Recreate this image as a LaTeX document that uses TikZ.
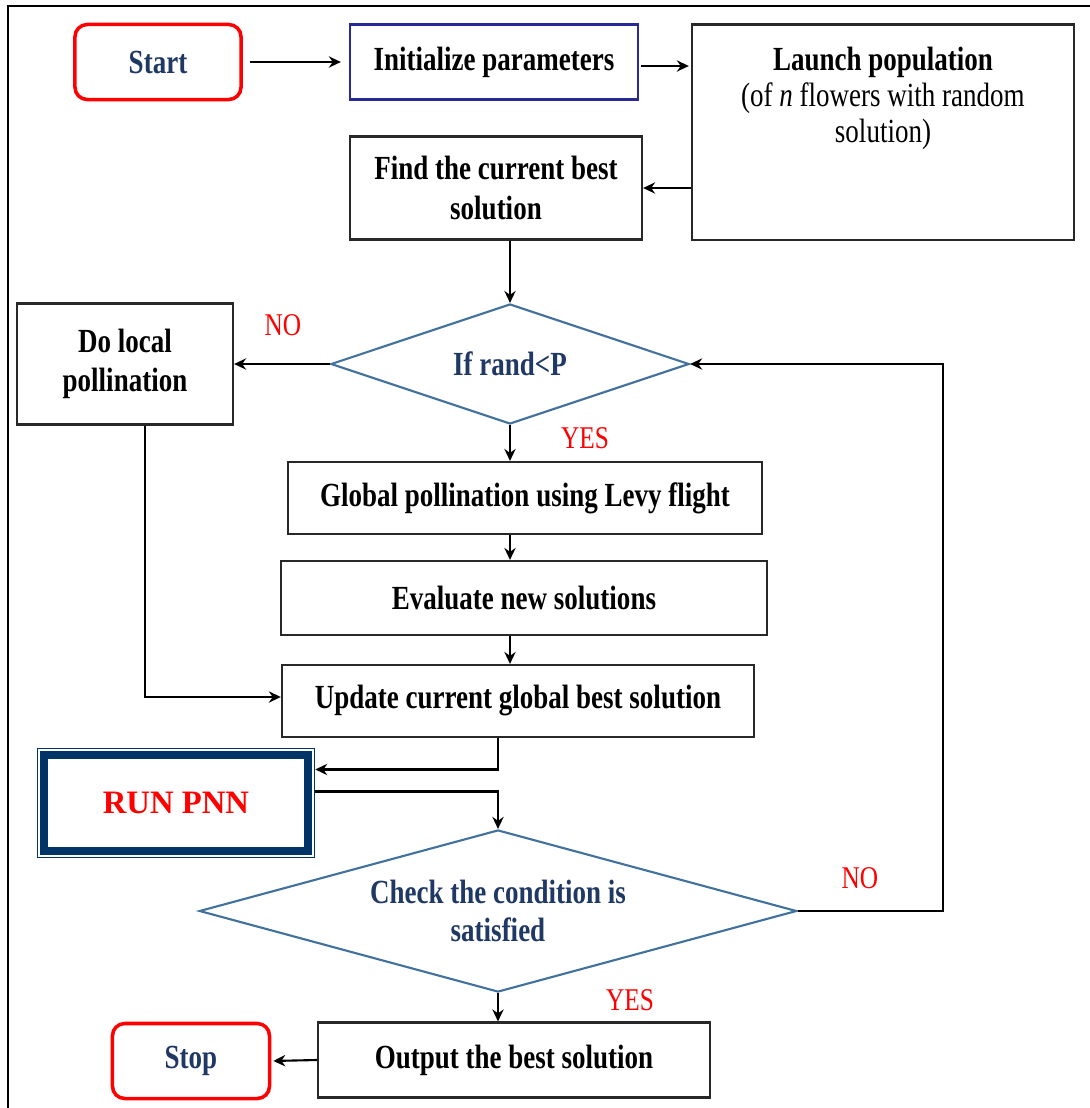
\documentclass[tikz,border=0pt]{standalone}
\usepackage{fontspec}
\setmainfont{Liberation Serif}[FakeStretch=0.8]
\usetikzlibrary{shapes.geometric,arrows.meta}

\definecolor{textblue}{RGB}{31,56,100}
\definecolor{edgeblue}{RGB}{65,113,156}
\definecolor{pnnblue}{RGB}{0,51,102}
\definecolor{initblue}{RGB}{40,40,150}
\definecolor{boxgray}{RGB}{40,40,40}

\tikzset{
  box/.style={draw=boxgray, line width=0.6pt, align=center, inner sep=2pt,
              font=\fontsize{9.6}{11.2}\selectfont\bfseries},
  term/.style={box, draw=red, line width=1pt, rounded corners=3.5pt, text=textblue},
  decision/.style={diamond, draw=edgeblue, line width=0.6pt, align=center, inner sep=0pt,
                   text=textblue, font=\fontsize{9.6}{10.9}\selectfont\bfseries},
  answer/.style={text=red, inner sep=0pt, font=\fontsize{9}{10}\selectfont},
  flow/.style={->, line width=0.6pt}
}

\begin{document}
\begin{tikzpicture}[x=0.01cm, y=-0.01cm, >={Stealth[length=3.4pt,width=3.2pt]}]
  \useasboundingbox (0,0) rectangle (1090,1108);
  % frame
  \draw[line width=0.7pt] (8,1108) -- (8,6) -- (1090,6);

  % top row
  \node[term, minimum width=1.66cm, minimum height=0.75cm] (start) at (158,62) {Start};
  \node[box, draw=initblue, minimum width=2.88cm, minimum height=0.75cm] (init) at (494,62) {Initialize parameters};
  \node[box, minimum width=3.82cm, minimum height=2.15cm] (launch) at (883,132) {};
  \node[anchor=north, align=center, inner sep=0pt, font=\fontsize{9.6}{10.2}\selectfont] (launchtxt)
    at ([yshift=-0.23cm]launch.north) {\textbf{Launch population}\\(of \textit{n} flowers with random\\solution)};
  \node[box, minimum width=2.92cm, minimum height=1.03cm] (find) at (496,188) {Find the current best\\solution};

  % loop body
  \node[decision, aspect=3, minimum width=3.58cm, minimum height=1.2cm] (rand) at (510,364) {If rand<P};
  \node[box, minimum width=2.16cm, minimum height=1.21cm] (local) at (125,364) {Do local\\pollination};
  \node[box, minimum width=4.73cm, minimum height=0.72cm] (global) at (525,498) {Global pollination using Levy flight};
  \node[box, minimum width=4.85cm, minimum height=0.74cm] (evaluate) at (524,598) {Evaluate new solutions};
  \node[box, minimum width=4.72cm, minimum height=0.72cm] (update) at (518,701) {Update current global best solution};

  \node[draw=pnnblue, line width=0.4pt, minimum width=2.77cm, minimum height=1.09cm, text=red,
        font=\fontsize{9.3}{11}\selectfont\bfseries] (pnn) at (176,803) {\scalebox{1.25}[1]{RUN PNN}};
  \draw[pnnblue, line width=2.2pt] ([shift={(0.075cm,-0.075cm)}]pnn.north west)
    rectangle ([shift={(-0.075cm,0.075cm)}]pnn.south east);

  \node[decision, aspect=3.7, minimum width=5.97cm, minimum height=1.62cm] (check) at (498,911) {Check the condition is\\satisfied};
  \node[box, minimum width=3.92cm, minimum height=0.75cm] (output) at (514,1060) {Output the best solution};
  \node[term, minimum width=1.57cm, minimum height=0.75cm] (stop) at (191,1061) {Stop};

  % branch labels
  \node[answer] (no1) at (283,325) {NO};
  \node[answer] (yes1) at (585,438) {YES};
  \node[answer] (no2) at (860,878) {NO};
  \node[answer] (yes2) at (630,1000) {YES};

  \coordinate (loop) at (943,364);

  % connectors
  \draw[flow, shorten <=0.07cm, shorten >=0.08cm] (start) -- (init);
  \draw[flow, shorten <=0.02cm, shorten >=0.02cm] ([yshift=-0.04cm]init.east) -- ([yshift=-0.04cm]init.east -| launch.west);
  \draw[flow] (launch.west |- find.east) -- (find.east);
  \draw[flow] (find.south -| rand.north) -- (rand.north);
  \draw[flow] (rand.west) -- (local.east);
  \draw[flow] (rand.south) -- (rand.south |- global.north);
  \draw[flow] (global.south -| rand.south) -- (evaluate.north -| rand.south);
  \draw[flow] (evaluate.south -| rand.south) -- (update.north -| rand.south);
  \draw[flow] ([xshift=0.2cm]local.south) |- ([yshift=0.04cm]update.west);
  \draw[flow] (update.south -| check.north) |- ([yshift=0.335cm]pnn.east);
  \draw[flow] ([yshift=0.115cm]pnn.east) -| (check.north);
  \draw[flow] (check.east) -| (loop) -- (rand.east);
  \draw[flow] (check.south) -- (check.south |- output.north);
  \draw[flow, shorten >=0.02cm] (output.west) -- (stop.east);
\end{tikzpicture}
\end{document}
